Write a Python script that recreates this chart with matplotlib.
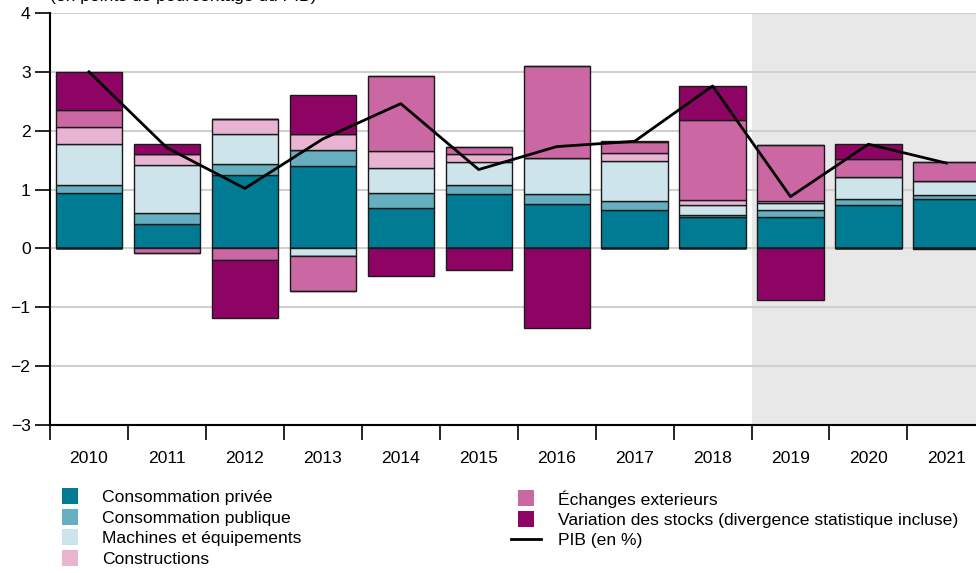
import numpy as np
import matplotlib.pyplot as plt
from matplotlib.lines import Line2D

plt.rcParams['font.family'] = ['Liberation Sans', 'DejaVu Sans']

years = ['2010', '2011', '2012', '2013', '2014', '2015', '2016', '2017', '2018', '2019', '2020', '2021']
cons_privee = [0.95, 0.41, 1.25, 1.40, 0.68, 0.93, 0.76, 0.66, 0.53, 0.54, 0.74, 0.84]
cons_publique = [0.13, 0.19, 0.18, 0.28, 0.26, 0.14, 0.16, 0.14, 0.03, 0.12, 0.10, 0.07]
machines = [0.69, 0.81, 0.52, -0.13, 0.42, 0.39, 0.61, 0.69, 0.17, 0.12, 0.37, 0.23]
constructions = [0.30, 0.20, 0.25, 0.27, 0.30, 0.14, 0.00, 0.13, 0.10, 0.02, 0.00, 0.00]
echanges = [0.28, -0.07, -0.20, -0.60, 1.27, 0.12, 1.57, 0.18, 1.36, 0.96, 0.31, 0.32]
stocks = [0.65, 0.17, -0.98, 0.65, -0.46, -0.37, -1.36, 0.02, 0.57, -0.87, 0.25, -0.01]
pib = [3.00, 1.71, 1.02, 1.86, 2.46, 1.34, 1.73, 1.82, 2.76, 0.88, 1.77, 1.45]

labels = ['Consommation privée', 'Consommation publique', 'Machines et équipements',
          'Constructions', 'Échanges exterieurs',
          'Variation des stocks (divergence statistique incluse)']
colors = ['#007b93', '#65afc0', '#cce4ea', '#e8b4d2', '#cb67a3', '#8e0465']
series = [cons_privee, cons_publique, machines, constructions, echanges, stocks]

fig = plt.figure(figsize=(9.76, 5.73), dpi=100)
ax = fig.add_axes([50 / 976, 148 / 573, 926 / 976, 412 / 573])

x = np.arange(len(years))
ax.axvspan(8.5, 12, color='#e8e8e8', zorder=0, lw=0)
for v in range(-3, 5):
    ax.axhline(v, color='#d0d0d0', lw=1.5, zorder=1)

# diverging stack: positives up from 0, negatives down from 0
pos = np.zeros(len(years))
neg = np.zeros(len(years))
for vals, col in zip(series, colors):
    vals = np.array(vals)
    p = np.where(vals > 0, vals, 0)
    n = np.where(vals < 0, vals, 0)
    ax.bar(x, p, 0.85, bottom=pos, color=col, edgecolor='#1a1a1a', lw=1, zorder=2)
    ax.bar(x, n, 0.85, bottom=neg, color=col, edgecolor='#1a1a1a', lw=1, zorder=2)
    pos += p
    neg += n

ax.plot(x, pib, color='black', lw=2, zorder=3)

ax.set_yticks(range(-3, 5))
ax.set_xticks(x)
ax.set_xticklabels(years)
ax.set_xticks(np.arange(-0.5, 12, 1), minor=True)
ax.set_xlim(-0.5, 11.38)
ax.set_ylim(-3, 4)
ax.tick_params(axis='x', which='major', length=0, labelsize=12.6, pad=19)
ax.tick_params(axis='x', which='minor', length=11, width=1.2, direction='out')
ax.tick_params(axis='y', length=11, width=1.2, labelsize=12.6, pad=3)
for s in ['top', 'right']:
    ax.spines[s].set_visible(False)
for s in ['left', 'bottom']:
    ax.spines[s].set_linewidth(1.5)

fig.text(50 / 976, 0.998, '(en points de pourcentage du PIB)', fontsize=12.6, va='baseline')

def sq(c):
    return Line2D([], [], marker='s', ls='none', markersize=11.5, markerfacecolor=c,
                  markeredgewidth=0)

leg_kw = dict(loc='upper left', frameon=False, fontsize=12.6, handlelength=1.7,
              handletextpad=1.0, labelspacing=0.3, borderaxespad=0, borderpad=0)
l1 = fig.legend([sq(c) for c in colors[:4]], labels[:4],
                bbox_to_anchor=(55 / 976, 1 - 490 / 573), **leg_kw)
l2 = fig.legend([sq(c) for c in colors[4:]] + [Line2D([], [], color='black', lw=2)],
                labels[4:] + ['PIB (en %)'],
                bbox_to_anchor=(511 / 976, 1 - 490 / 573), **leg_kw)

fig.savefig('out.png', dpi=100)
